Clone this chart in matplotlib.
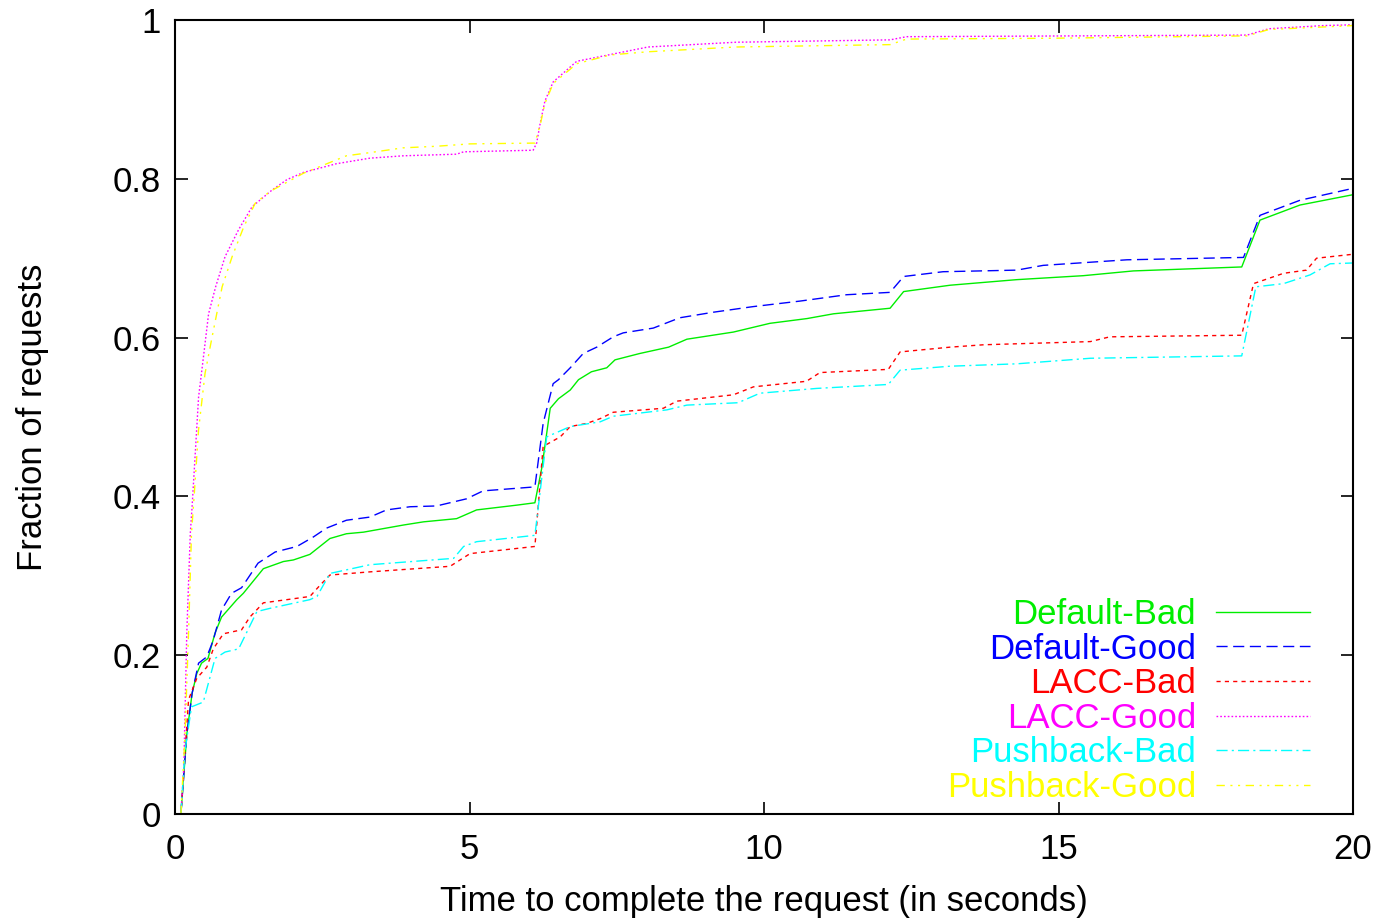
import matplotlib
matplotlib.use("Agg")
import matplotlib.pyplot as plt

plt.rcParams["font.family"] = ["Liberation Sans", "DejaVu Sans"]

# Default-Bad (green, solid)
db_x = [0.10, 0.20, 0.29, 0.37, 0.45, 0.56, 0.68, 0.79, 1.05, 1.16, 1.50, 1.84, 2.01, 2.29, 2.63,
        2.91, 3.20, 3.88, 4.22, 4.78, 5.12, 5.80, 6.11, 6.23, 6.37, 6.51, 6.71, 6.85, 7.07, 7.33,
        7.47, 7.89, 8.38, 8.69, 9.48, 10.10, 10.73, 11.18, 12.14, 12.37, 13.16, 14.29, 15.42,
        16.27, 18.11, 18.42, 19.1, 20.0]
db_y = [0, 0.10, 0.152, 0.177, 0.19, 0.196, 0.228, 0.248, 0.27, 0.278, 0.309, 0.318, 0.32, 0.327,
        0.347, 0.353, 0.355, 0.364, 0.368, 0.372, 0.383, 0.389, 0.392, 0.437, 0.511, 0.523, 0.534,
        0.547, 0.557, 0.562, 0.572, 0.58, 0.588, 0.598, 0.607, 0.618, 0.624, 0.630, 0.637, 0.658,
        0.666, 0.673, 0.678, 0.684, 0.689, 0.748, 0.767, 0.78]

# Default-Good (blue, dashed)
dg_x = [0.10, 0.20, 0.29, 0.40, 0.54, 0.65, 0.79, 0.96, 1.13, 1.41, 1.70, 2.07, 2.35, 2.57, 2.91,
        3.31, 3.59, 3.99, 4.44, 4.95, 5.23, 6.11, 6.25, 6.42, 6.51, 6.71, 6.93, 7.16, 7.44, 7.61,
        8.12, 8.57, 9.14, 9.81, 10.61, 11.40, 12.14, 12.37, 13.04, 14.29, 14.74, 16.16, 18.14,
        18.42, 19.1, 20.0]
dg_y = [0, 0.10, 0.152, 0.19, 0.198, 0.219, 0.257, 0.278, 0.285, 0.316, 0.33, 0.337, 0.349, 0.36,
        0.37, 0.374, 0.383, 0.387, 0.388, 0.397, 0.407, 0.412, 0.492, 0.542, 0.547, 0.562, 0.58,
        0.588, 0.601, 0.606, 0.612, 0.625, 0.632, 0.639, 0.646, 0.654, 0.657, 0.677, 0.683, 0.685,
        0.691, 0.698, 0.701, 0.754, 0.773, 0.788]

# LACC-Bad (red, short dashes)
lb_x = [0.10, 0.23, 0.37, 0.54, 0.65, 0.82, 1.13, 1.27, 1.50, 1.90, 2.29, 2.46, 2.63, 3.31, 4.67,
        5.01, 6.11, 6.25, 6.54, 6.71, 6.99, 7.22, 7.44, 8.29, 8.52, 9.48, 9.82, 10.72, 10.95, 12.11,
        12.31, 13.16, 13.73, 15.54, 15.87, 18.11, 18.31, 18.82, 19.21, 19.38, 20.0]
lb_y = [0, 0.144, 0.171, 0.185, 0.208, 0.227, 0.232, 0.248, 0.266, 0.27, 0.274, 0.288, 0.301,
        0.305, 0.312, 0.328, 0.337, 0.463, 0.475, 0.488, 0.492, 0.498, 0.506, 0.511, 0.520, 0.528,
        0.538, 0.545, 0.556, 0.560, 0.582, 0.588, 0.591, 0.595, 0.601, 0.603, 0.668, 0.681, 0.685,
        0.70, 0.705]

# LACC-Good (magenta, dotted)
lg_x = [0.10, 0.15, 0.20, 0.26, 0.29, 0.35, 0.40, 0.49, 0.57, 0.69, 0.85, 1.08, 1.31, 1.65, 1.90,
        2.18, 2.74, 3.31, 3.88, 4.78, 4.90, 6.08, 6.14, 6.20, 6.28, 6.42, 6.82, 8.03, 9.52, 12.14,
        12.42, 18.2, 18.57, 19.5, 20.0]
lg_y = [0, 0.06, 0.228, 0.354, 0.387, 0.462, 0.525, 0.58, 0.63, 0.664, 0.702, 0.736, 0.765,
        0.786, 0.799, 0.808, 0.819, 0.826, 0.829, 0.831, 0.834, 0.836, 0.845, 0.87, 0.898, 0.922,
        0.948, 0.966, 0.972, 0.975, 0.979, 0.981, 0.989, 0.993, 0.994]

# Pushback-Bad (cyan, dash-dot)
pb_x = [0.10, 0.17, 0.28, 0.48, 0.68, 0.85, 1.08, 1.39, 1.61, 2.29, 2.41, 2.63, 3.31, 4.73, 4.90,
        5.12, 6.11, 6.31, 6.71, 7.22, 7.44, 8.35, 8.69, 9.56, 9.93, 10.89, 12.11, 12.31, 13.16,
        14.29, 15.54, 18.11, 18.35, 18.82, 19.27, 19.61, 20.0]
pb_y = [0, 0.08, 0.135, 0.141, 0.196, 0.204, 0.208, 0.255, 0.259, 0.27, 0.274, 0.303, 0.314,
        0.322, 0.337, 0.343, 0.351, 0.475, 0.488, 0.494, 0.501, 0.509, 0.515, 0.518, 0.53, 0.536,
        0.541, 0.559, 0.564, 0.567, 0.574, 0.577, 0.664, 0.668, 0.679, 0.693, 0.694]

# Pushback-Good (yellow, dash-dot-dot)
pg_x = [0.10, 0.17, 0.23, 0.28, 0.32, 0.40, 0.51, 0.63, 0.80, 0.97, 1.17, 1.36, 1.61, 2.18, 2.91,
        3.31, 3.87, 4.44, 5.01, 6.11, 6.20, 6.28, 6.42, 6.82, 7.39, 8.03, 9.52, 12.14, 12.42,
        14.84, 18.2, 18.57, 20.0]
pg_y = [0, 0.10, 0.228, 0.354, 0.395, 0.484, 0.555, 0.601, 0.664, 0.702, 0.74, 0.769, 0.784,
        0.807, 0.829, 0.833, 0.839, 0.841, 0.844, 0.845, 0.868, 0.895, 0.92, 0.945, 0.956, 0.96,
        0.966, 0.969, 0.976, 0.977, 0.98, 0.988, 0.993]

x_ticks = [0, 5, 10, 15, 20]
y_ticks = [0, 0.2, 0.4, 0.6, 0.8, 1]
y_tick_labels = ["0", "0.2", "0.4", "0.6", "0.8", "1"]

series = [
    ("Default-Bad", db_x, db_y, "#00ee00", "-"),
    ("Default-Good", dg_x, dg_y, "#0000ff", (0, (8, 4))),
    ("LACC-Bad", lb_x, lb_y, "#ff0000", (0, (3, 3))),
    ("LACC-Good", lg_x, lg_y, "#ff00ff", (0, (1.2, 1.5))),
    ("Pushback-Bad", pb_x, pb_y, "#00ffff", (0, (8, 3, 1.5, 3))),
    ("Pushback-Good", pg_x, pg_y, "#ffff00", (0, (6, 4, 1.5, 4, 1.5, 4))),
]

FS = 25

fig = plt.figure(figsize=(13.78, 9.22), dpi=100)
ax = fig.add_axes([0.127, 0.1171, 0.8549, 0.8612])

for name, xs, ys, col, ls in series:
    ax.plot(xs, ys, color=col, linestyle=ls, linewidth=1.0, label=name)

ax.set_xlim(0, 20)
ax.set_ylim(0, 1)
ax.set_xticks(x_ticks)
ax.set_xticklabels([str(t) for t in x_ticks])
ax.set_yticks(y_ticks)
ax.set_yticklabels(y_tick_labels)
ax.tick_params(direction="in", length=9, width=1.2, labelsize=FS, top=True, right=True)
ax.tick_params(axis="y", pad=10)
ax.tick_params(axis="x", pad=14)
for sp in ax.spines.values():
    sp.set_linewidth(1.5)

ax.set_xlabel("Time to complete the request (in seconds)", fontsize=FS, labelpad=13)
ax.set_ylabel("Fraction of requests", fontsize=FS, labelpad=46)

leg = ax.legend(loc="lower right", bbox_to_anchor=(0.984, -0.018), frameon=False, fontsize=FS,
                markerfirst=False, labelcolor="linecolor", alignment="right",
                handlelength=2.7, handletextpad=0.58, labelspacing=0.046, borderaxespad=0.3)

fig.savefig("out.png", dpi=100)
